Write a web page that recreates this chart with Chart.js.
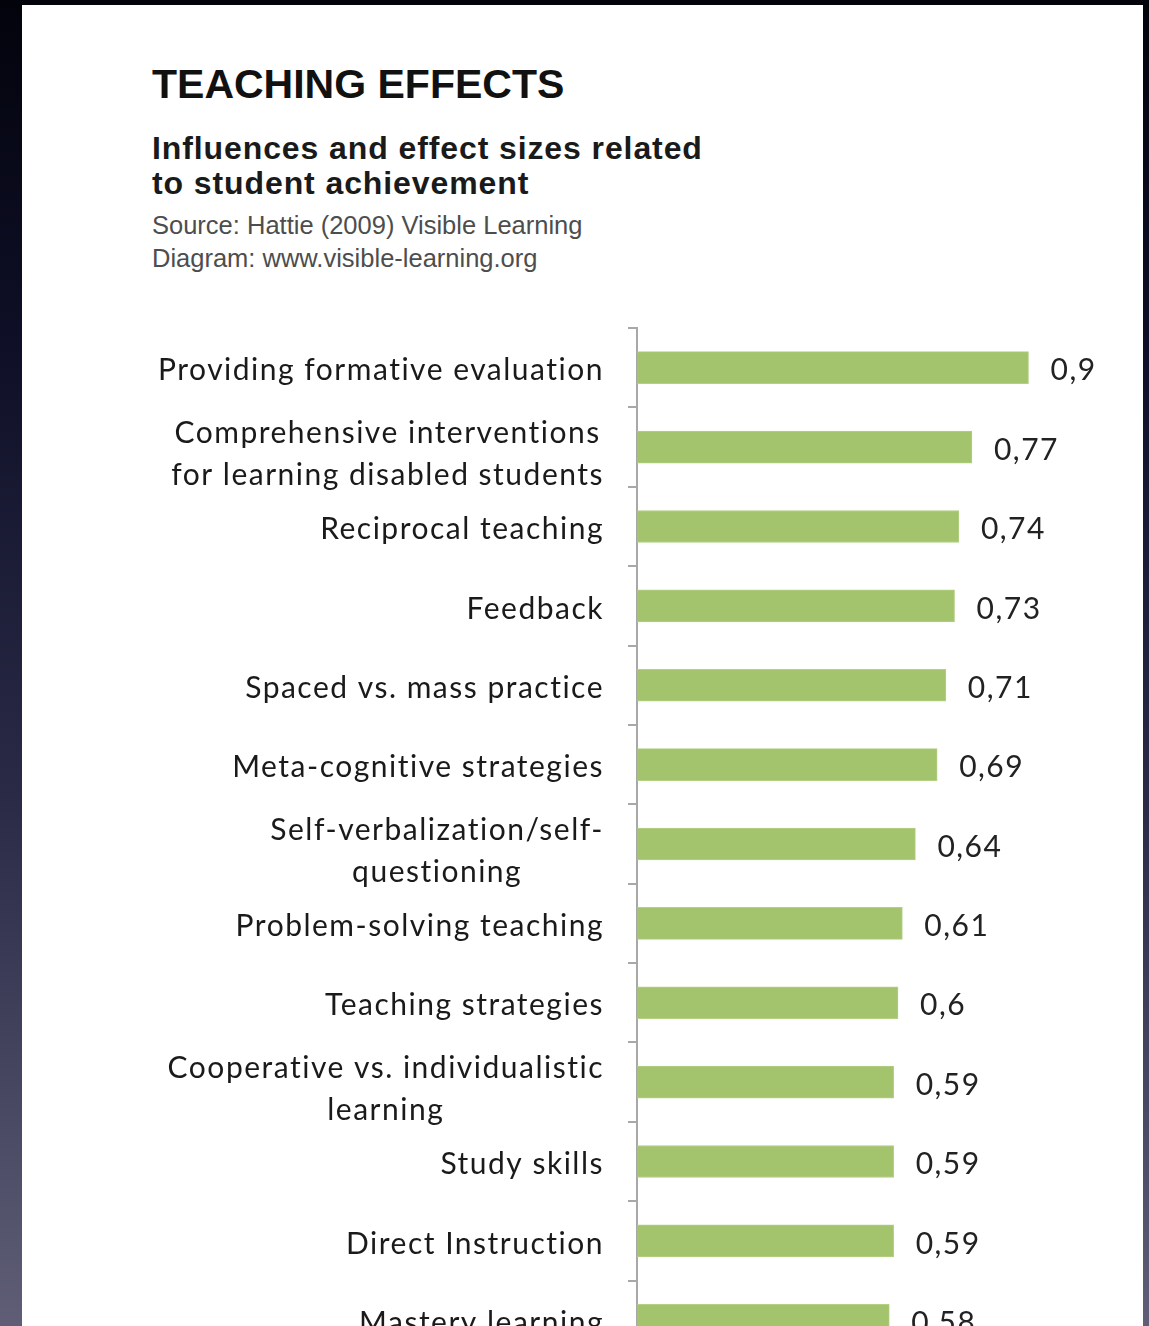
<!DOCTYPE html>
<html>
<head>
<meta charset="utf-8">
<title>Teaching effects</title>
<script src="https://cdn.jsdelivr.net/npm/chart.js@4.4.1/dist/chart.umd.min.js"></script>
<style>
  html, body { margin: 0; padding: 0; }
  body {
    width: 1149px; height: 1326px; overflow: hidden; position: relative;
    background: linear-gradient(to bottom, #03030c 0%, #0e0f26 25%, #2a2a47 60%, #5f5e76 100%);
  }
  #card { position: absolute; left: 22px; top: 5px; width: 1121px; height: 1400px; background: #fff; }
  .txt { position: absolute; left: 152px; white-space: nowrap; font-family: "Liberation Sans", Arial, sans-serif; }
  #title { top: 64px; font-size: 41px; line-height: 41px; font-weight: bold; color: #111; }
  #subtitle { top: 131px; font-size: 32px; line-height: 35px; font-weight: bold; color: #1a1a1a; letter-spacing: 0.9px; }
  #source { top: 209px; font-size: 25.5px; line-height: 33px; color: #4d4d4d; }
  #wrap { position: absolute; left: 0; top: 300px; width: 1149px; height: 1100px; }
</style>
</head>
<body>
<div id="card"></div>
<div class="txt" id="title">TEACHING EFFECTS</div>
<div class="txt" id="subtitle">Influences and effect sizes related<br>to student achievement</div>
<div class="txt" id="source">Source: Hattie (2009) Visible Learning<br>Diagram: www.visible-learning.org</div>
<div id="wrap"><canvas id="chart"></canvas></div>

<script>
// influences, top to bottom
const influences = [
    ['Providing formative evaluation'],
    ['Comprehensive interventions', 'for learning disabled students'],
    ['Reciprocal teaching'],
    ['Feedback'],
    ['Spaced vs. mass practice'],
    ['Meta-cognitive strategies'],
    ['Self-verbalization/self-', 'questioning'],
    ['Problem-solving teaching'],
    ['Teaching strategies'],
    ['Cooperative vs. individualistic', 'learning'],
    ['Study skills'],
    ['Direct Instruction'],
    ['Mastery learning'],
];

// effect size per influence
const effectSizes = [0.9, 0.77, 0.74, 0.73, 0.71, 0.69, 0.64, 0.61, 0.6, 0.59, 0.59, 0.59, 0.58];

const labelFont = '30px Lato, "Open Sans", sans-serif';
const labelSpacing = '1.5px';

// category names: block right aligned next to the axis, lines centred inside the block
const categoryLabels = {
    id: 'categoryLabels',
    afterDraw(chart) {
        const ctx = chart.ctx;
        const yScale = chart.scales.y;
        const right = chart.chartArea.left - 34;
        ctx.save();
        ctx.font = labelFont;
        ctx.letterSpacing = labelSpacing;
        ctx.fillStyle = '#1a1a1a';
        ctx.textAlign = 'center';
        ctx.textBaseline = 'middle';
        chart.data.labels.forEach((lines, i) => {
            const y = yScale.getPixelForValue(i);
            const w = Math.max(...lines.map(l => ctx.measureText(l).width));
            const cx = right - w / 2 + 1;
            if (lines.length == 1) {
                ctx.fillText(lines[0], cx, y + 3);
            } else {
                ctx.fillText(lines[0], cx, y - 14);
                ctx.fillText(lines[1], cx, y + 28);
            }
        });
        ctx.restore();
    }
};

// value next to each bar, decimal comma
const valueLabels = {
    id: 'valueLabels',
    afterDatasetsDraw(chart) {
        const ctx = chart.ctx;
        const meta = chart.getDatasetMeta(0);
        ctx.save();
        ctx.font = labelFont;
        ctx.letterSpacing = labelSpacing;
        ctx.fillStyle = '#222';
        ctx.textAlign = 'left';
        ctx.textBaseline = 'middle';
        meta.data.forEach((bar, i) => {
            const txt = String(chart.data.datasets[0].data[i]).replace('.', ',');
            ctx.fillText(txt, bar.x + 22, bar.y + 3);
        });
        ctx.restore();
    }
};

const myChart = new Chart(document.getElementById('chart'), {
    type: 'bar',
    data: {
        labels: influences,
        datasets: [{
            data: effectSizes,
            backgroundColor: '#a3c36c',
            borderColor: '#b4d084',
            borderWidth: 1,
            barThickness: 32,
        }]
    },
    options: {
        indexAxis: 'y',
        responsive: true,
        maintainAspectRatio: false,
        animation: false,
        layout: { padding: { top: 28, right: 77, bottom: 40, left: 0 } },
        plugins: {
            legend: { display: false },
            tooltip: { enabled: false },
        },
        scales: {
            x: { display: false, min: 0, max: 1 },
            y: {
                afterFit: (scale) => { scale.width = 637; },
                border: { color: '#a8a8a8', width: 2 },
                grid: { drawOnChartArea: false, tickLength: 9, color: '#a8a8a8', lineWidth: 2, offset: true },
                ticks: { display: false },
            }
        }
    },
    plugins: [categoryLabels, valueLabels]
});
</script>
</body>
</html>
